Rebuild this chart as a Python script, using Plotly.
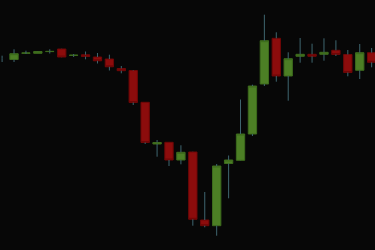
import plotly.graph_objects as go

# Candle index (x), and OHLC values
idx = list(range(32))
opens = [119.13, 119.05, 119.68, 119.67, 119.84, 120.10, 119.46, 119.52, 119.30, 119.10,
         118.15, 117.95, 114.77, 110.60, 110.77, 109.00, 109.80, 103.00, 102.43, 108.65,
         108.97, 111.60, 116.60, 121.17, 117.40, 119.37, 119.57, 119.57, 119.97, 119.55,
         117.97, 119.73]
highs = [119.43, 120.07, 119.93, 119.87, 120.07, 120.12, 119.60, 119.85, 119.70, 119.53,
         118.40, 118.00, 114.78, 111.00, 110.78, 110.47, 109.82, 105.80, 108.60, 109.45,
         115.05, 116.53, 123.53, 121.77, 119.77, 121.20, 120.63, 121.17, 120.97, 120.00,
         120.60, 120.20]
lows = [118.80, 118.80, 119.60, 119.66, 119.65, 119.28, 119.30, 119.07, 118.65, 117.95,
        117.67, 114.50, 110.60, 109.33, 108.40, 108.57, 102.43, 102.27, 101.43, 105.17,
        108.95, 111.40, 116.40, 116.83, 114.93, 118.73, 118.73, 118.93, 119.40, 117.37,
        117.10, 118.27]
closes = [119.13, 119.63, 119.70, 119.85, 119.86, 119.30, 119.48, 119.35, 118.92, 118.32,
          117.93, 114.75, 110.75, 110.75, 109.00, 109.77, 103.07, 102.43, 108.40, 109.00,
          111.60, 116.40, 120.93, 117.40, 119.13, 119.57, 119.37, 119.77, 119.55, 117.75,
          119.73, 118.77]

# wicks: upper (body top -> high) and lower (low -> body bottom) segments
wick_x, wick_y = [], []
for x, o, h, l, c in zip(idx, opens, highs, lows, closes):
    top, bot = max(o, c), min(o, c)
    wick_x += [x, x, None, x, x, None]
    wick_y += [top, h, None, l, bot, None]

# bodies (a candle with open == close shows only its wick)
has_body = [o != c for o, c in zip(opens, closes)]
b_open = [o if hb else None for o, hb in zip(opens, has_body)]
b_close = [c if hb else None for c, hb in zip(closes, has_body)]
b_hi = [max(o, c) if hb else None for o, c, hb in zip(opens, closes, has_body)]
b_lo = [min(o, c) if hb else None for o, c, hb in zip(opens, closes, has_body)]

fig = go.Figure()

fig.add_trace(go.Scatter(
    x=wick_x, y=wick_y, mode="lines",
    line=dict(color="#3f6670", width=1),
    hoverinfo="skip", showlegend=False,
))
fig.add_trace(go.Candlestick(
    x=idx, open=b_open, high=b_hi, low=b_lo, close=b_close,
    increasing=dict(line=dict(color="#3c6a1c", width=1), fillcolor="#4c7f25"),
    decreasing=dict(line=dict(color="#6e0707", width=1), fillcolor="#8c0c0c"),
    whiskerwidth=0, hoverinfo="skip", showlegend=False,
))

fig.update_layout(
    width=375, height=250,
    margin=dict(l=0, r=0, t=0, b=0),
    paper_bgcolor="#070707", plot_bgcolor="#070707",
    showlegend=False,
    boxgap=0.3, boxgroupgap=0,
    xaxis=dict(visible=False, range=[-0.176, 31.28], rangeslider=dict(visible=False)),
    yaxis=dict(visible=False, range=[100, 125]),
)

fig.write_html("out.html")
